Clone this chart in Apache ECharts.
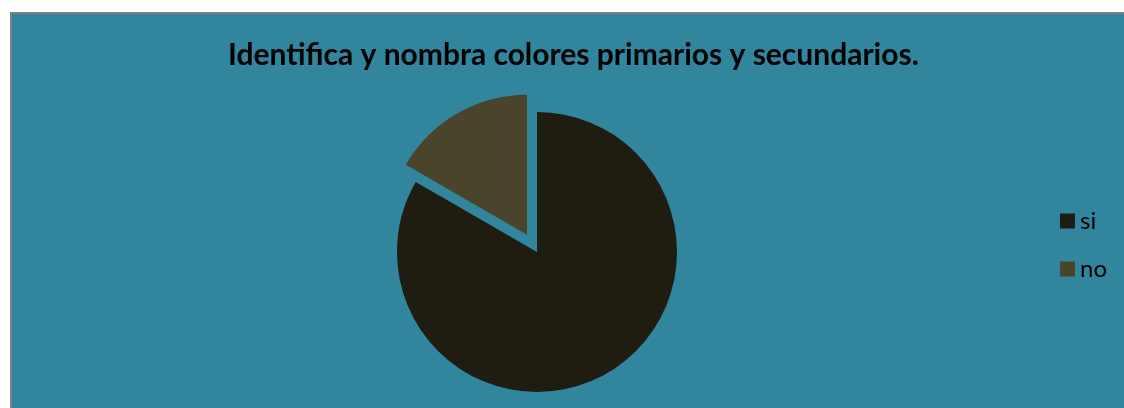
<!DOCTYPE html>
<html>
<head>
    <meta charset="utf-8">
    <title>ECharts</title>
    <script src="https://cdn.jsdelivr.net/npm/echarts@6/dist/echarts.min.js"></script>
	<style type="text/css">
		body{margin:0;background:#fff;overflow:hidden;}
		#main{
			position:absolute;
			left:10px;top:12px;
			width:1112px;height:394px;
			border-left:2px solid #808080;
			border-top:2px solid #808080;
			background:#31859C;
		}
	</style>
</head>
<body>
	<div id="main"></div>
    <script type="text/javascript">
		// datos del gráfico
		let categorias = ['si', 'no'];
		let valores = [5, 1];
		let colores = ['#1F1C12', '#4A452A'];

		let datos = [];
		for(var i=0;i<categorias.length;i++){
			datos.push({
				name: categorias[i],
				value: valores[i],
				selected: categorias[i] == 'no',
				itemStyle: {color: colores[i]}
			});
		}

		var myChart = echarts.init(document.getElementById('main'));
		option = {
			backgroundColor: '#31859C',
			title: {
				text: 'Identifica y nombra colores primarios y secundarios.',
				left: 216,
				top: 26,
				padding: 0,
				textStyle: {fontFamily: 'Lato', fontWeight: 'bold', fontSize: 30, color: '#000'}
			},
			legend: {
				orient: 'vertical',
				left: 1043,
				top: 190,
				itemWidth: 15,
				itemHeight: 15,
				itemGap: 24,
				icon: 'rect',
				selectedMode: false,
				data: categorias,
				textStyle: {fontFamily: 'Lato', fontSize: 24, color: '#000'}
			},
			series: [
				{
					type: 'pie',
					center: [525, 238],
					radius: 140,
					startAngle: 90,
					selectedMode: 'single',
					selectedOffset: 20,
					label: {show: false},
					labelLine: {show: false},
					emphasis: {disabled: true},
					animation: false,
					data: datos
				}
			]
		};
		myChart.setOption(option);
    </script>
</body>
</html>
